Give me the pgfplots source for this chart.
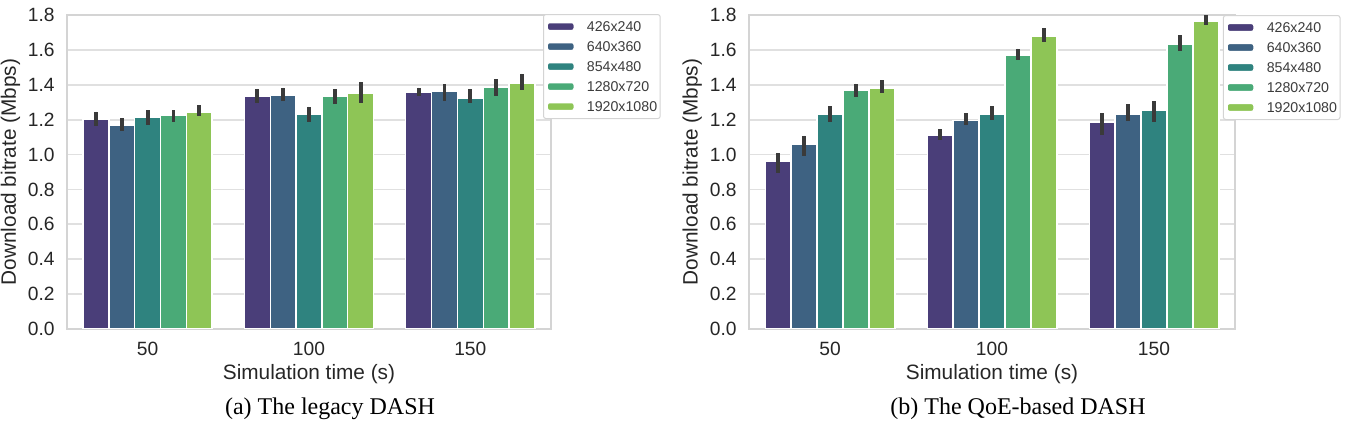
\documentclass[border=0pt]{standalone}
\usepackage{pgfplots}
\pgfplotsset{compat=1.18}
\usepackage{pgfplotstable}
\usepackage{fontspec}
\setmainfont{Liberation Sans}
\newfontfamily\capfont{Liberation Serif}

% viridis palette, muted as in seaborn bar plots
\definecolor{resA}{HTML}{4A3E79}
\definecolor{resB}{HTML}{3E6282}
\definecolor{resC}{HTML}{2F837F}
\definecolor{resD}{HTML}{4AAA77}
\definecolor{resE}{HTML}{8EC556}
\definecolor{errgray}{HTML}{3A3A3A}
\definecolor{gridgray}{HTML}{E0E0E0}
\definecolor{framegray}{HTML}{D4D4D4}
\definecolor{txt}{HTML}{262626}

% mean bitrate, upper and lower error for each resolution (a..e)
% x: 0 = 50 s, 1 = 100 s, 2 = 150 s
\pgfplotstableread{
x a     ap    am    b     bp    bm    c     cp    cm    d     dp    dm    e     ep    em
0 1.200 0.046 0.034 1.170 0.038 0.033 1.213 0.042 0.042 1.223 0.032 0.034 1.242 0.042 0.023
1 1.334 0.042 0.038 1.338 0.046 0.031 1.229 0.046 0.040 1.334 0.042 0.044 1.351 0.067 0.055
2 1.357 0.027 0.023 1.364 0.040 0.055 1.324 0.052 0.030 1.385 0.048 0.047 1.406 0.058 0.036
}\legacy

\pgfplotstableread{
x a     ap    am    b     bp    bm    c     cp    cm    d     dp    dm    e     ep    em
0 0.961 0.046 0.069 1.059 0.049 0.065 1.233 0.044 0.044 1.368 0.038 0.038 1.380 0.047 0.029
1 1.110 0.037 0.025 1.194 0.044 0.023 1.229 0.048 0.033 1.567 0.040 0.025 1.676 0.050 0.033
2 1.185 0.053 0.073 1.233 0.055 0.043 1.254 0.053 0.065 1.634 0.051 0.042 1.766 0.040 0.023
}\qoe

\pgfplotsset{
  resbar/.style={fill=#1, draw=white, line width=0.7pt,
    error bars/y dir=both, error bars/y explicit, error bars/error mark=none,
    error bars/error bar style={line width=1.9pt, draw=errgray}},
  dashpanel/.style={
    width=242pt, height=157pt, scale only axis,
    xmin=-0.5, xmax=2.5, ymin=0, ymax=1.8,
    ybar=0pt, bar width=0.16,
    xtick={0,1,2}, xticklabels={50,100,150},
    ytick={0,0.2,0.4,0.6,0.8,1.0,1.2,1.4,1.6,1.8},
    major tick length=0pt,
    ymajorgrids, grid style={gridgray, line width=0.9pt},
    axis line style={framegray, line width=0.9pt},
    font=\fontsize{9.6}{11}\selectfont,
    tick label style={txt, font=\fontsize{9.6}{11}\selectfont},
    /pgf/number format/assume math mode=true,
    yticklabel style={anchor=east, inner sep=0pt, xshift=-6pt,
      /pgf/number format/.cd, fixed, fixed zerofill, precision=1},
    xticklabel style={anchor=center, yshift=-10pt},
    xlabel={Simulation time (s)},
    ylabel={Download bitrate (Mbps)},
    label style={txt, font=\fontsize{10.4}{12}\selectfont},
    xlabel style={at={(axis description cs:0.5,-0.145)}, anchor=center},
    ylabel style={at={(axis description cs:-0.1167,0.5)}, anchor=center},
    legend cell align=left,
    legend image code/.code={\fill[##1] (0pt,-2pt) rectangle (13.5pt,2pt);},
    legend style={anchor=north west, draw=framegray, fill=white,
      rounded corners=1.2pt, line width=0.5pt,
      font=\fontsize{7.1}{8}\selectfont, text=txt!90,
      inner xsep=1.5pt, inner ysep=3.4pt, row sep=4.8pt,
      nodes={inner sep=0pt, text height=5.2pt, text depth=0pt},
      /tikz/every odd column/.append style={column sep=6pt}},
  },
}

\begin{document}
\begin{tikzpicture}
\useasboundingbox (0,0) rectangle (678pt,-211pt);

\begin{axis}[dashpanel, at={(33.5pt,-164.5pt)}, anchor=south west,
  legend style={at={(axis description cs:0.9835,1.003)}}]
  \addplot[resbar=resA, bar shift=-0.32] table[x=x, y=a, y error plus=ap, y error minus=am] {\legacy};
  \addplot[resbar=resB, bar shift=-0.16] table[x=x, y=b, y error plus=bp, y error minus=bm] {\legacy};
  \addplot[resbar=resC, bar shift=0]     table[x=x, y=c, y error plus=cp, y error minus=cm] {\legacy};
  \addplot[resbar=resD, bar shift=0.16]  table[x=x, y=d, y error plus=dp, y error minus=dm] {\legacy};
  \addplot[resbar=resE, bar shift=0.32]  table[x=x, y=e, y error plus=ep, y error minus=em] {\legacy};
  \legend{426x240,640x360,854x480,1280x720,1920x1080}
\end{axis}

\begin{axis}[dashpanel, at={(374.5pt,-164.5pt)}, anchor=south west,
  width=243pt,
  legend style={at={(axis description cs:0.975,1.0)}}]
  \addplot[resbar=resA, bar shift=-0.32] table[x=x, y=a, y error plus=ap, y error minus=am] {\qoe};
  \addplot[resbar=resB, bar shift=-0.16] table[x=x, y=b, y error plus=bp, y error minus=bm] {\qoe};
  \addplot[resbar=resC, bar shift=0]     table[x=x, y=c, y error plus=cp, y error minus=cm] {\qoe};
  \addplot[resbar=resD, bar shift=0.16]  table[x=x, y=d, y error plus=dp, y error minus=dm] {\qoe};
  \addplot[resbar=resE, bar shift=0.32]  table[x=x, y=e, y error plus=ep, y error minus=em] {\qoe};
  \legend{426x240,640x360,854x480,1280x720,1920x1080}
\end{axis}

% sub-figure captions
\node[anchor=base, font=\capfont\fontsize{12}{14}\selectfont] at (165pt,-207.5pt) {(a) The legacy DASH};
\node[anchor=base, font=\capfont\fontsize{12}{14}\selectfont] at (509pt,-207.5pt) {(b) The QoE-based DASH};
\end{tikzpicture}
\end{document}
